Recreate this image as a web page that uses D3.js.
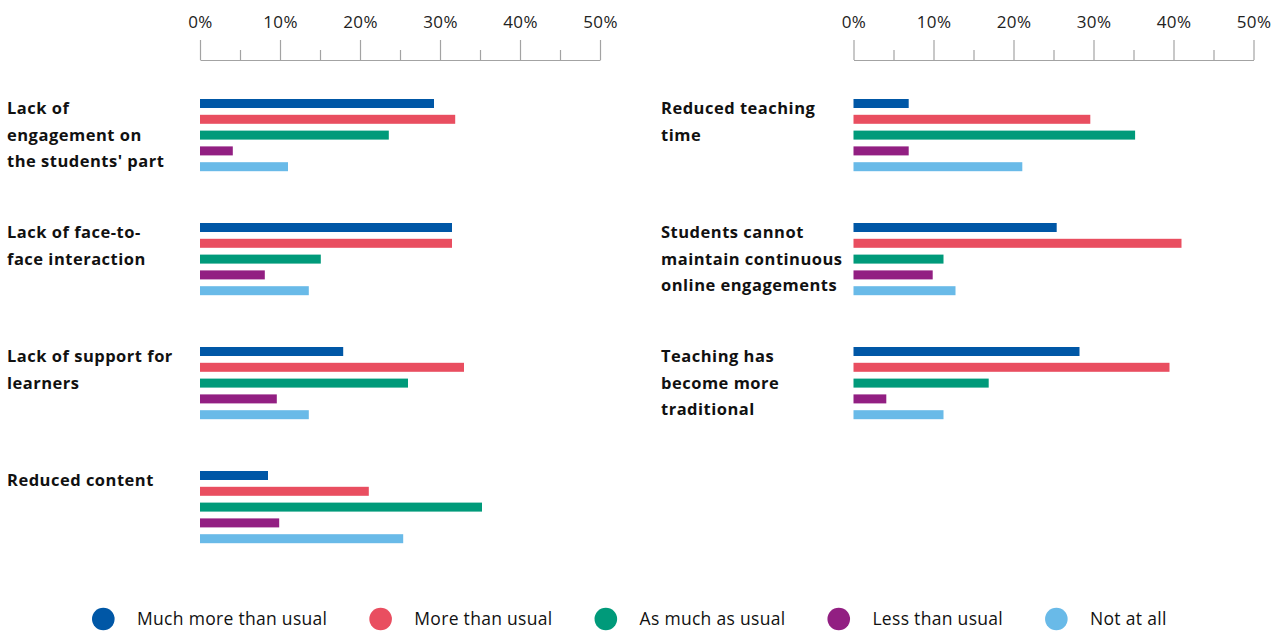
<!DOCTYPE html>
<html>
<head>
<meta charset="utf-8">
<script src="https://cdn.jsdelivr.net/npm/d3@7"></script>
<style>
  html, body { margin: 0; padding: 0; background: #fff; }
  svg { display: block; }
  text { font-family: "Open Sans", "Noto Sans", sans-serif; }
</style>
</head>
<body>
<svg id="chart" width="1283" height="631"></svg>
<script>
// Response categories (series)
const seriesNames = ["Much more than usual", "More than usual", "As much as usual", "Less than usual", "Not at all"];
const seriesColors = ["#0057A6", "#E94E60", "#009A7A", "#921F82", "#69BAE8"];

// Left panel categories and shares (%) per series
const leftCategories = ["Lack of\nengagement on\nthe students' part", "Lack of face-to-\nface interaction", "Lack of support for\nlearners", "Reduced content"];
const leftMuchMore = [29.25, 31.5, 17.9, 8.5];
const leftMore     = [31.9, 31.5, 33.0, 21.1];
const leftAsMuch   = [23.6, 15.1, 26.0, 35.25];
const leftLess     = [4.1, 8.1, 9.6, 9.9];
const leftNotAtAll = [11.0, 13.6, 13.6, 25.4];

// Right panel categories and shares (%) per series
const rightCategories = ["Reduced teaching\ntime", "Students cannot\nmaintain continuous\nonline engagements", "Teaching has\nbecome more\ntraditional"];
const rightMuchMore = [6.9, 25.4, 28.25];
const rightMore     = [29.6, 41.0, 39.5];
const rightAsMuch   = [35.2, 11.25, 16.9];
const rightLess     = [6.9, 9.9, 4.1];
const rightNotAtAll = [21.1, 12.75, 11.25];

// Axis ticks
const majorTicks = [0, 10, 20, 30, 40, 50];
const minorTicks = [5, 15, 25, 35, 45];

const svg = d3.select("#chart");

function drawPanel(opts) {
  const { categories, values, labelX, x0 } = opts;
  const x = d3.scaleLinear().domain([0, 50]).range([x0, x0 + 400]);
  const axisY = 60;

  // Minor ticks
  svg.append("g")
    .attr("transform", `translate(0,${axisY})`)
    .call(d3.axisTop(x).tickValues(minorTicks).tickSize(10).tickSizeOuter(0).tickFormat(""))
    .call(g => g.select(".domain").remove())
    .call(g => g.selectAll("line").attr("stroke", "#a3a3a3").attr("stroke-width", 1.2));

  // Major ticks with labels
  svg.append("g")
    .attr("transform", `translate(0,${axisY})`)
    .call(d3.axisTop(x).tickValues(majorTicks).tickSize(20).tickSizeOuter(0).tickPadding(12)
      .tickFormat(d => d + "%"))
    .call(g => g.select(".domain").attr("stroke", "#a3a3a3").attr("stroke-width", 1.2))
    .call(g => g.selectAll("line").attr("stroke", "#a3a3a3").attr("stroke-width", 1.2))
    .call(g => g.selectAll("text").attr("fill", "#222").attr("font-size", 17)
      .attr("letter-spacing", "0.4px")
      .attr("font-family", "'Open Sans', sans-serif"));

  const groupStep = 124;
  const y = d3.scaleBand().domain(categories)
    .range([99, 99 + groupStep * categories.length]).paddingInner(0).paddingOuter(0);
  const ySeries = d3.scaleBand().domain(seriesNames).range([0, 79]);
  const barH = 9;

  const groups = svg.append("g").selectAll("g")
    .data(categories)
    .join("g")
    .attr("transform", d => `translate(0,${y(d)})`);

  groups.selectAll("rect")
    .data((d, i) => seriesNames.map((s, k) => ({ s, k, v: values[k][i] })))
    .join("rect")
    .attr("x", x(0))
    .attr("y", d => ySeries(d.s))
    .attr("width", d => x(d.v) - x(0))
    .attr("height", barH)
    .attr("fill", d => seriesColors[d.k]);

  groups.append("text")
    .attr("x", labelX)
    .attr("y", 15)
    .attr("font-size", 16.5)
    .attr("font-weight", 700)
    .attr("letter-spacing", "0.5px")
    .attr("fill", "#111")
    .selectAll("tspan")
    .data(d => d.split("\n"))
    .join("tspan")
    .attr("x", labelX)
    .attr("dy", (d, i) => i === 0 ? 0 : 26.5)
    .text(d => d);
}

drawPanel({
  categories: leftCategories,
  values: [leftMuchMore, leftMore, leftAsMuch, leftLess, leftNotAtAll],
  labelX: 7,
  x0: 200
});

drawPanel({
  categories: rightCategories,
  values: [rightMuchMore, rightMore, rightAsMuch, rightLess, rightNotAtAll],
  labelX: 661,
  x0: 853.5
});

// Legend laid out left to right
const legend = svg.append("g").attr("transform", "translate(0,619)");
let cursor = 92;
seriesNames.forEach((name, k) => {
  const item = legend.append("g").attr("transform", `translate(${cursor},0)`);
  item.append("circle").attr("cx", 11.3).attr("cy", 0).attr("r", 11.3).attr("fill", seriesColors[k]);
  const t = item.append("text")
    .attr("x", 45)
    .attr("y", 6)
    .attr("font-size", 17.5)
    .attr("letter-spacing", "0.3px")
    .attr("fill", "#111")
    .text(name);
  const w = t.node().getComputedTextLength();
  cursor += 45 + w + 42;
});
</script>
</body>
</html>
